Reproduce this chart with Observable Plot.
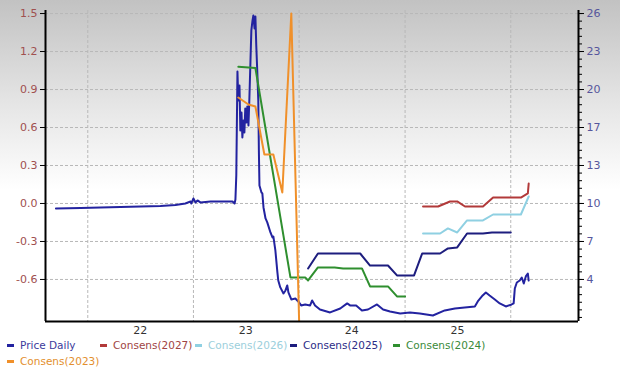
<!DOCTYPE html>
<html><head><meta charset="utf-8">
<script src="https://cdn.jsdelivr.net/npm/d3@7"></script>
<script src="https://cdn.jsdelivr.net/npm/@observablehq/plot@0.6"></script>
<style>
body{margin:0;width:620px;height:367px;overflow:hidden;background:linear-gradient(#c2c2c2 0px,#e4e4e4 100px,#ffffff 190px,#ffffff 367px);font-family:"DejaVu Sans",Verdana,sans-serif;}
#chart svg{background:transparent;display:block}
#legend{position:relative;height:29px;font-size:10.5px}
.item{position:absolute;white-space:nowrap;line-height:14px}
.sw{display:inline-block;width:7px;height:3px;vertical-align:middle;margin-right:6px;position:relative;top:-1px}
</style></head><body>
<div id="chart"></div><div id="legend"></div>
<script>
// ---- data ----
const priceDates = [
"2021-09-13","2021-12-08","2022-02-14","2022-04-24","2022-07-02","2022-09-09","2022-10-31","2022-12-04","2022-12-22","2022-12-25",
"2023-01-01","2023-01-08","2023-01-15","2023-01-25","2023-03-01","2023-04-04","2023-05-16","2023-05-23","2023-05-26","2023-05-29",
"2023-06-02","2023-06-05","2023-06-09","2023-06-12","2023-06-16","2023-06-19","2023-06-23","2023-06-26","2023-06-29","2023-07-03",
"2023-07-06","2023-07-10","2023-07-13","2023-07-17","2023-07-20","2023-07-24","2023-07-27","2023-07-31","2023-08-03","2023-08-06",
"2023-08-10","2023-08-13","2023-08-15","2023-08-17","2023-08-24","2023-08-27","2023-08-31","2023-09-07","2023-09-13","2023-09-24",
"2023-10-01","2023-10-04","2023-10-11","2023-10-18","2023-10-21","2023-10-28","2023-11-08","2023-11-15","2023-11-21","2023-11-25",
"2023-12-05","2023-12-19","2023-12-29","2024-01-08","2024-01-22","2024-02-08","2024-02-15","2024-02-25","2024-03-13","2024-04-17",
"2024-05-22","2024-06-15","2024-06-25","2024-07-16","2024-08-05","2024-08-26","2024-09-26","2024-10-17","2024-11-10","2024-12-15",
"2025-01-18","2025-02-21","2025-04-07","2025-05-18","2025-06-22","2025-07-26","2025-08-30","2025-09-09","2025-09-26","2025-10-07",
"2025-10-20","2025-11-07","2025-11-24","2025-12-15","2026-01-04","2026-01-11","2026-01-15","2026-01-22","2026-02-01","2026-02-08",
"2026-02-15","2026-02-22","2026-03-01","2026-03-04"];
const priceValues = [
9.57,9.62,9.66,9.70,9.74,9.79,9.87,10.0,10.17,10.0,
10.43,10.09,10.26,10.09,10.17,10.17,10.17,10.0,10.34,12.39,
21.29,18.81,20.09,16.24,17.78,15.64,17.10,16.07,18.13,16.93,
18.30,16.67,18.81,22.23,24.80,25.65,26.08,24.97,25.99,23.51,
20.95,18.81,14.53,11.54,10.94,10.86,9.66,8.72,8.38,7.52,
7.09,7.18,5.98,4.10,3.41,2.82,2.30,2.56,2.99,2.39,
1.79,1.87,1.62,1.28,1.36,1.28,1.70,1.28,0.93,0.68,
1.02,1.45,1.28,1.28,0.85,0.93,1.36,0.93,0.76,0.59,
0.68,0.59,0.42,0.85,1.02,1.11,1.19,1.62,2.13,2.39,
2.13,1.79,1.45,1.19,1.36,1.45,2.73,3.24,3.41,3.67,
3.16,3.76,4.01,3.41];

const c2023Dates = ["2023-06-05","2023-07-10","2023-08-03","2023-09-03","2023-10-04","2023-11-04","2023-12-05","2024-01-01"];
const c2023Values = [0.837,0.782,0.766,0.387,0.387,0.087,1.50,-0.93];

const c2024Dates = ["2023-06-05","2023-08-03","2023-12-02","2024-01-22","2024-02-01","2024-03-06","2024-05-03","2024-06-01","2024-08-05","2024-09-02","2024-11-03","2024-12-04","2025-01-01"];
const c2024Values = [1.08,1.07,-0.584,-0.584,-0.608,-0.505,-0.505,-0.513,-0.513,-0.655,-0.655,-0.734,-0.734];

const c2025Dates = ["2024-02-01","2024-03-06","2024-07-30","2024-09-02","2024-11-03","2024-12-04","2025-02-01","2025-03-01","2025-05-02","2025-05-29","2025-06-30","2025-08-03","2025-09-27","2025-10-28","2026-01-01"];
const c2025Values = [-0.513,-0.395,-0.395,-0.49,-0.49,-0.568,-0.568,-0.395,-0.395,-0.355,-0.347,-0.237,-0.237,-0.229,-0.229];

const c2026Dates = ["2025-03-04","2025-05-02","2025-05-29","2025-06-30","2025-08-03","2025-09-27","2025-11-01","2026-02-05","2026-03-04"];
const c2026Values = [-0.237,-0.237,-0.197,-0.229,-0.134,-0.134,-0.087,-0.087,0.055];

const c2027Dates = ["2025-03-04","2025-04-25","2025-06-05","2025-06-30","2025-07-27","2025-09-27","2025-11-01","2026-02-05","2026-03-01","2026-03-04"];
const c2027Values = [-0.024,-0.024,0.016,0.016,-0.024,-0.024,0.047,0.047,0.079,0.158];

const leftTicks = [-0.6,-0.3,0.0,0.3,0.6,0.9,1.2,1.5];
const leftTickLabels = ["-0.6","-0.3","0.0","0.3","0.6","0.9","1.2","1.5"];
const rightTickLabels = ["4","7","10","13","17","20","23","26"];
const yearLabels = ["22","23","24","25"];
const yearLabelDates = ["2022-07-01","2023-07-01","2024-07-01","2025-07-01"];
const yearGridDates = ["2022-01-01","2023-01-01","2024-01-01","2025-01-01","2026-01-01"];

const seriesNames = ["Price Daily","Consens(2027)","Consens(2026)","Consens(2025)","Consens(2024)","Consens(2023)"];
const seriesColors = ["#2323a0","#b23a3a","#8fd0e2","#1d1d7e","#2f8f2f","#f0902a"];
const legendTextColors = ["#3b3b9c","#a04444","#9ccfdc","#2b2b86","#3a8a3a","#e38f2e"];

// ---- build ----
const D = s => new Date(s + "T00:00:00Z");
// price (right axis) to left-axis units
const priceToY = p => (p - 10) / (3.25 / 0.3);
const rows = (dates, vals, f = v => v) => dates.map((d, i) => ({date: D(d), y: f(vals[i])}));

const price = rows(priceDates, priceValues, priceToY);
const series = [
  rows(c2027Dates, c2027Values), rows(c2026Dates, c2026Values),
  rows(c2025Dates, c2025Values), rows(c2024Dates, c2024Values), rows(c2023Dates, c2023Values)
];

const xDomain = [D("2021-08-08"), D("2026-08-23")];
const yDomain = [-0.932, 1.524];
const minorTicks = d3.range(-0.9, 1.5201, 0.06).map(v => +v.toFixed(3));

const chart = Plot.plot({
  width: 620, height: 338,
  marginLeft: 45, marginRight: 42, marginTop: 10, marginBottom: 17,
  style: {fontFamily: '"DejaVu Sans",Verdana,sans-serif', fontSize: "11px", background: "transparent", overflow: "visible"},
  x: {type: "utc", domain: xDomain},
  y: {domain: yDomain},
  marks: [
    Plot.gridY(leftTicks, {stroke: "#b8b8b8", strokeOpacity: 1, strokeDasharray: "3,2"}),
    Plot.gridX(yearGridDates.map(D), {stroke: "#b8b8b8", strokeOpacity: 1, strokeDasharray: "3,2"}),
    Plot.axisY(leftTicks, {anchor: "left", tickFormat: (d, i) => leftTickLabels[i], tickSize: 5, tickPadding: 3, stroke: "#000", fill: "#a0504f", label: null}),
    Plot.axisY(minorTicks, {anchor: "right", tickFormat: () => "", tickSize: 3, stroke: "#000", label: null}),
    Plot.axisY(leftTicks, {anchor: "right", tickFormat: (d, i) => rightTickLabels[i], tickSize: 5, tickPadding: 3, stroke: "#000", fill: "#56569c", label: null}),
    Plot.axisX(yearLabelDates.map(D), {anchor: "bottom", tickFormat: (d, i) => yearLabels[i], tickSize: 0, tickPadding: 5, fill: "#333", label: null}),
    Plot.line(price, {x: "date", y: "y", stroke: seriesColors[0], strokeWidth: 2, clip: true}),
    ...series.map((s, i) => Plot.line(s, {x: "date", y: "y", stroke: seriesColors[i + 1], strokeWidth: 2, clip: true})),
    Plot.ruleX([xDomain[0]], {stroke: "#000", strokeWidth: 2}),
    Plot.ruleX([xDomain[1]], {stroke: "#000", strokeWidth: 2}),
    Plot.ruleY([yDomain[0]], {stroke: "#000", strokeWidth: 2})
  ]
});
document.getElementById("chart").appendChild(chart);

// legend
const legendPos = [[7,0],[100,0],[195,0],[290,0],[393,0],[7,16]];
const legend = document.getElementById("legend");
seriesNames.forEach((name, i) => {
  const it = document.createElement("div");
  it.className = "item";
  it.style.left = legendPos[i][0] + "px";
  it.style.top = legendPos[i][1] + "px";
  it.style.color = legendTextColors[i];
  it.innerHTML = `<span class="sw" style="background:${seriesColors[i]}"></span>${name}`;
  legend.appendChild(it);
});
</script></body></html>
